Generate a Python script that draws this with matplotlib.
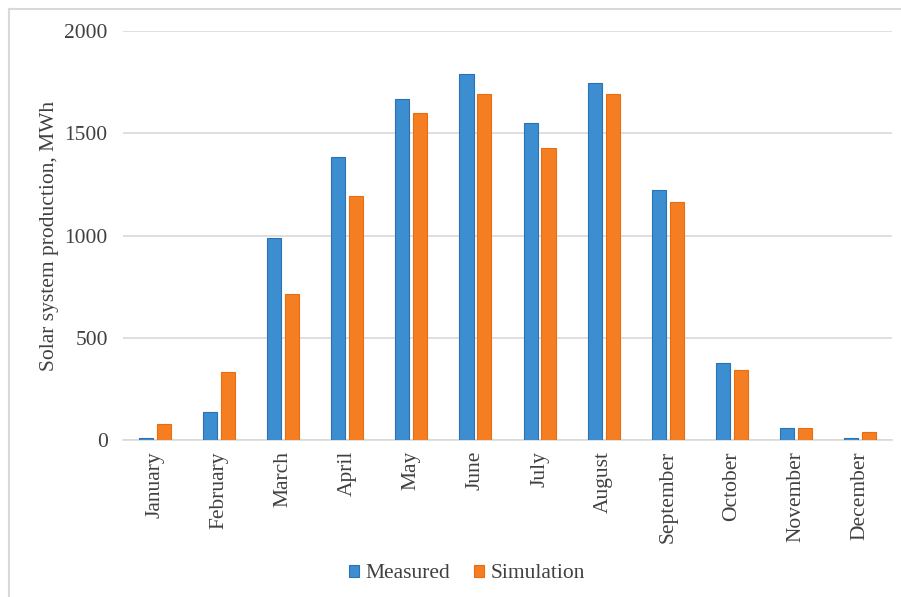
import matplotlib.pyplot as plt
import numpy as np
from matplotlib.lines import Line2D

months = ["January", "February", "March", "April", "May", "June",
          "July", "August", "September", "October", "November", "December"]
measured = [8, 137, 988, 1384, 1667, 1790, 1550, 1746, 1222, 377, 59, 8]
simulation = [78, 332, 714, 1193, 1599, 1692, 1428, 1692, 1164, 342, 59, 39]

plt.rcParams["font.family"] = ["Liberation Serif", "DejaVu Serif"]
text_color = "#404040"
grid_color = "#D9D9D9"
fs = 15.5

fig = plt.figure(figsize=(9.01, 5.97), dpi=100)
ax = fig.add_axes([0.1365, 0.263, 0.8535, 0.685])

x = np.arange(len(months))
width = 0.22
ax.bar(x - 0.14, measured, width, color="#3D8DD1", edgecolor="#2A72B5",
       linewidth=0.8, label="Measured", zorder=3)
ax.bar(x + 0.14, simulation, width, color="#F67E22", edgecolor="#E66D10",
       linewidth=0.8, label="Simulation", zorder=3)

ax.set_xlim(-0.5, len(months) - 0.5)
ax.set_ylim(0, 2000)
ax.set_yticks([0, 500, 1000, 1500, 2000])
ax.yaxis.grid(True, color=grid_color, linewidth=1.2, zorder=0)
ax.set_xticks(x)
ax.set_xticklabels(months, rotation=90)
ax.tick_params(axis="both", length=0, labelsize=fs, labelcolor=text_color)
ax.tick_params(axis="y", pad=11)
ax.tick_params(axis="x", pad=8)
for side in ["top", "right", "left"]:
    ax.spines[side].set_visible(False)
ax.spines["bottom"].set_color(grid_color)
ax.spines["bottom"].set_linewidth(1.2)

ax.set_ylabel("Solar system production, MWh", fontsize=fs, color=text_color,
              labelpad=4)

fig.legend(loc="center", bbox_to_anchor=(467 / 901, 1 - 574 / 597), ncol=2,
           frameon=False, fontsize=fs, handlelength=0.45, handleheight=0.45,
           handletextpad=0.3, columnspacing=1.1, labelcolor=text_color)

# light frame along the left and top edge
fx, fy = 8.5 / 901, 1 - 8.5 / 597
fig.add_artist(Line2D([fx, fx], [0, fy], transform=fig.transFigure,
                      color=grid_color, linewidth=1.5))
fig.add_artist(Line2D([fx, 1], [fy, fy], transform=fig.transFigure,
                      color=grid_color, linewidth=1.5))

fig.savefig("out.png", dpi=100)
